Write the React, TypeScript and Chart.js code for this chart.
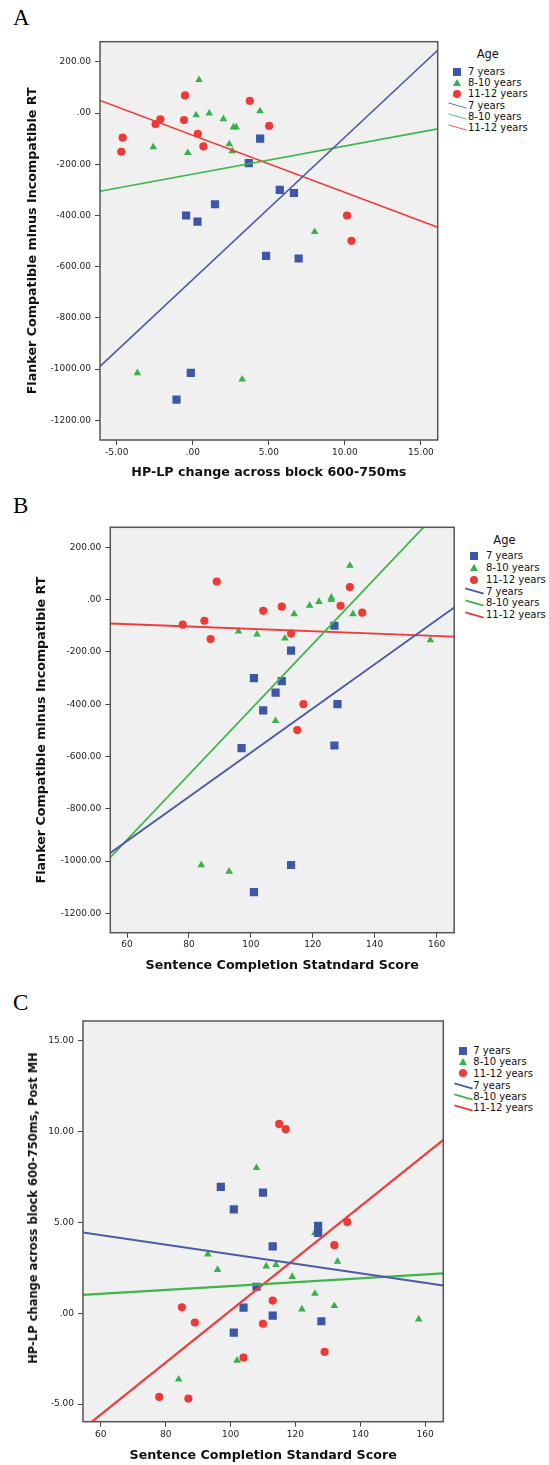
import React, { useEffect, useRef } from 'react';
import { Chart, registerables } from 'chart.js';

Chart.register(...registerables);

// ---------------- DATA ----------------
const ageGroups = ['7 years', '8-10 years', '11-12 years'];

// 7 years
const sentence7 = [127, 113, 101, 110, 108, 128, 104, 97, 127, 113, 101];
const hplp7 = [4.43, 3.68, 5.72, 6.65, 1.46, -0.44, 0.31, 6.96, 4.82, -0.13, -1.07];
const flanker7 = [-100, -195, -300, -312, -356, -400, -424, -568, -558, -1015, -1119];

// 8-10 years
const sentence810 = [84, 93, 96, 102, 108, 111, 114, 119, 122, 126, 126, 132, 133, 158];
const hplp810 = [-3.64, 3.25, 2.4, -2.6, 8.01, 2.59, 2.67, 2.01, 0.22, 4.42, 1.08, 0.41, 2.85, -0.33];
const flanker810 = [-1015, -1040, -121, -133, -464, -148, -55, -23, -8, 8, -1, 130, -55, -155];

// 11-12 years
const sentence1112 = [89, 78, 85, 87, 104, 110, 113, 117, 115, 129, 132, 136];
const hplp1112 = [-0.51, -4.61, 0.33, -4.7, -2.45, -0.58, 0.7, 10.14, 10.43, -2.13, 3.75, 5.02];
const flanker1112 = [69, -96, -81, -151, -43, -27, -130, -400, -499, -24, 48, -50];

// ticks
const flankerTicks = [200, 0, -200, -400, -600, -800, -1000, -1200];
const flankerTickLabels = ['200.00', '.00', '-200.00', '-400.00', '-600.00', '-800.00', '-1000.00', '-1200.00'];
const hplpTicks = [-5, 0, 5, 10, 15];
const hplpTickLabels = ['-5.00', '.00', '5.00', '10.00', '15.00'];
const sentenceTicks = [60, 80, 100, 120, 140, 160];
const sentenceTickLabels = ['60', '80', '100', '120', '140', '160'];

// axis limits
const rangeA = { xMin: -6.1, xMax: 16.1, yMin: -1277, yMax: 279 };
const rangeB = { xMin: 54.6, xMax: 165.7, yMin: -1274, yMax: 276.5 };
const rangeC = { xMin: 54.5, xMax: 165.6, yMin: -5.975, yMax: 16.1 };

// ---------------- STYLE ----------------
const pointColors = ['#3d57a8', '#35b24a', '#ee3a37'];
const lineColors = ['#4a5aa6', '#3fb54c', '#ee3b3b'];
const pointStyles = ['rect', 'triangle', 'circle'];
const pointRadii = [5.8, 4.4, 4.1];
const FONT = '"DejaVu Sans", sans-serif';

function fitLine(xs: number[], ys: number[], x0: number, x1: number) {
  const n = xs.length;
  const mx = xs.reduce((a, b) => a + b, 0) / n;
  const my = ys.reduce((a, b) => a + b, 0) / n;
  let sxy = 0;
  let sxx = 0;
  for (let i = 0; i < n; i++) {
    sxy += (xs[i] - mx) * (ys[i] - my);
    sxx += (xs[i] - mx) * (xs[i] - mx);
  }
  const b = sxy / sxx;
  const a = my - b * mx;
  return [
    { x: x0, y: a + b * x0 },
    { x: x1, y: a + b * x1 },
  ];
}

const labelOf = (vals: number[], labels: string[]) => (v: any) => {
  const i = vals.indexOf(Number(v));
  return i >= 0 ? labels[i] : '';
};

const framePlugin = {
  id: 'plotFrame',
  beforeDraw(chart: any) {
    const { ctx, chartArea: a } = chart;
    ctx.save();
    ctx.fillStyle = '#f0f0f0';
    ctx.fillRect(a.left, a.top, a.right - a.left, a.bottom - a.top);
    ctx.restore();
  },
  afterDraw(chart: any) {
    const { ctx, chartArea: a } = chart;
    ctx.save();
    ctx.strokeStyle = '#555555';
    ctx.lineWidth = 1.5;
    ctx.strokeRect(a.left, a.top, a.right - a.left, a.bottom - a.top);
    ctx.restore();
  },
};

type PanelSpec = {
  xs: number[][];
  ys: number[][];
  range: { xMin: number; xMax: number; yMin: number; yMax: number };
  xTicks: number[];
  xLabels: string[];
  yTicks: number[];
  yLabels: string[];
  xTitle: string;
  yTitle: string | null;
  padTop: number;
  padRight: number;
  yAxisWidth: number;
  xAxisHeight: number;
  yTitlePad: number;
  xTitlePad: number;
  xTickPad: number;
  lineWidth: number;
};

function buildConfig(p: PanelSpec): any {
  const datasets: any[] = [];
  for (let g = 0; g < 3; g++) {
    datasets.push({
      type: 'line',
      label: ageGroups[g] + ' fit',
      data: fitLine(p.xs[g], p.ys[g], p.range.xMin, p.range.xMax),
      borderColor: lineColors[g],
      borderWidth: p.lineWidth,
      pointRadius: 0,
      fill: false,
      tension: 0,
      clip: 0,
      order: 0,
    });
  }
  for (let g = 0; g < 3; g++) {
    datasets.push({
      type: 'scatter',
      label: ageGroups[g],
      data: p.xs[g].map((x, i) => ({ x, y: p.ys[g][i] })),
      backgroundColor: pointColors[g],
      borderColor: pointColors[g],
      borderWidth: 0,
      pointStyle: pointStyles[g],
      pointRadius: pointRadii[g],
      showLine: false,
      order: 1,
    });
  }
  const tickFont = { family: FONT, size: 9 };
  const titleFont = { family: FONT, size: 12.7, weight: 'bold' as const };
  return {
    type: 'scatter',
    data: { datasets },
    plugins: [framePlugin],
    options: {
      animation: false,
      responsive: false,
      events: [],
      layout: { padding: { top: p.padTop, right: p.padRight, bottom: 0, left: 0 } },
      plugins: { legend: { display: false }, tooltip: { enabled: false } },
      scales: {
        x: {
          type: 'linear',
          position: 'bottom',
          min: p.range.xMin,
          max: p.range.xMax,
          afterBuildTicks: (axis: any) => {
            axis.ticks = p.xTicks.map((v) => ({ value: v }));
          },
          afterFit: (axis: any) => {
            axis.height = p.xAxisHeight;
          },
          ticks: {
            callback: labelOf(p.xTicks, p.xLabels),
            font: tickFont,
            color: '#222',
            padding: p.xTickPad,
            maxRotation: 0,
            autoSkip: false,
          },
          grid: { drawOnChartArea: false, drawTicks: true, tickLength: 5, color: '#444', lineWidth: 1 },
          border: { display: false },
          title: {
            display: true,
            text: p.xTitle,
            font: titleFont,
            color: '#111',
            padding: { top: 0, bottom: p.xTitlePad },
          },
        },
        y: {
          type: 'linear',
          position: 'left',
          min: p.range.yMin,
          max: p.range.yMax,
          afterBuildTicks: (axis: any) => {
            axis.ticks = p.yTicks.map((v) => ({ value: v }));
          },
          afterFit: (axis: any) => {
            axis.width = p.yAxisWidth;
          },
          ticks: {
            callback: labelOf(p.yTicks, p.yLabels),
            font: tickFont,
            color: '#222',
            padding: 4,
            autoSkip: false,
          },
          grid: { drawOnChartArea: false, drawTicks: true, tickLength: 5, color: '#444', lineWidth: 1 },
          border: { display: false },
          title: {
            display: p.yTitle !== null,
            text: p.yTitle ?? '',
            font: titleFont,
            color: '#111',
            padding: { top: p.yTitlePad, bottom: 0 },
          },
        },
      },
    },
  };
}

function ChartPanel({ left, top, width, height, spec }: { left: number; top: number; width: number; height: number; spec: PanelSpec }) {
  const ref = useRef<HTMLCanvasElement>(null);
  useEffect(() => {
    const chart = new Chart(ref.current as HTMLCanvasElement, buildConfig(spec));
    return () => chart.destroy();
  }, []);
  return (
    <canvas
      ref={ref}
      width={width}
      height={height}
      style={{ position: 'absolute', left, top, width, height, display: 'block' }}
    />
  );
}

function Marker({ kind, color, cx, cy }: { kind: number; color: string; cx: number; cy: number }) {
  if (kind === 0)
    return <div style={{ position: 'absolute', left: cx - 4, top: cy - 4, width: 8, height: 8, background: color }} />;
  if (kind === 1)
    return (
      <div
        style={{
          position: 'absolute',
          left: cx - 4,
          top: cy - 3.5,
          width: 0,
          height: 0,
          borderLeft: '4px solid transparent',
          borderRight: '4px solid transparent',
          borderBottom: `7px solid ${color}`,
        }}
      />
    );
  return <div style={{ position: 'absolute', left: cx - 4, top: cy - 4, width: 8, height: 8, borderRadius: '50%', background: color }} />;
}

function LegendBlock({
  markerX,
  textX,
  rows,
  title,
  lineW,
}: {
  markerX: number;
  textX: number;
  rows: number[];
  title: { x: number; y: number } | null;
  lineW: number;
}) {
  const items: any[] = [];
  if (title)
    items.push(
      <div key="t" style={{ position: 'absolute', left: title.x, top: title.y - 6, fontSize: 11.5, lineHeight: '12px', fontFamily: FONT, color: '#111', whiteSpace: 'nowrap' }}>
        Age
      </div>
    );
  for (let g = 0; g < 3; g++) {
    items.push(<Marker key={'m' + g} kind={g} color={pointColors[g]} cx={markerX} cy={rows[g]} />);
  }
  for (let g = 0; g < 3; g++) {
    const cy = rows[g + 3];
    const len = 19;
    items.push(
      <div
        key={'l' + g}
        style={{
          position: 'absolute',
          left: markerX - len / 2,
          top: cy - lineW / 2,
          width: len,
          height: lineW,
          background: lineColors[g],
          transform: 'rotate(16deg)',
        }}
      />
    );
  }
  for (let r = 0; r < 6; r++) {
    items.push(
      <div
        key={'x' + r}
        style={{ position: 'absolute', left: textX, top: rows[r] - 4.8, fontSize: 10, lineHeight: '10px', fontFamily: FONT, color: '#111', whiteSpace: 'nowrap' }}
      >
        {ageGroups[r % 3]}
      </div>
    );
  }
  return <>{items}</>;
}

const specA: PanelSpec = {
  xs: [hplp7, hplp810, hplp1112],
  ys: [flanker7, flanker810, flanker1112],
  range: rangeA,
  xTicks: hplpTicks,
  xLabels: hplpTickLabels,
  yTicks: flankerTicks,
  yLabels: flankerTickLabels,
  xTitle: 'HP-LP change across block 600-750ms',
  yTitle: 'Flanker Compatible minus Incompatible RT',
  padTop: 41.7,
  padRight: 7.3,
  yAxisWidth: 100,
  xAxisHeight: 50,
  yTitlePad: 25.1,
  xTitlePad: 9.7,
  xTickPad: 2,
  lineWidth: 1.6,
};

const specB: PanelSpec = {
  xs: [sentence7, sentence810, sentence1112],
  ys: [flanker7, flanker810, flanker1112],
  range: rangeB,
  xTicks: sentenceTicks,
  xLabels: sentenceTickLabels,
  yTicks: flankerTicks,
  yLabels: flankerTickLabels,
  xTitle: 'Sentence Completion Statndard Score',
  yTitle: 'Flanker Compatible minus Incompatible RT',
  padTop: 37.3,
  padRight: 5,
  yAxisWidth: 110.3,
  xAxisHeight: 57.3,
  yTitlePad: 34.1,
  xTitlePad: 16.4,
  xTickPad: 2,
  lineWidth: 1.8,
};

const specC: PanelSpec = {
  xs: [sentence7, sentence810, sentence1112],
  ys: [hplp7, hplp810, hplp1112],
  range: rangeC,
  xTicks: sentenceTicks,
  xLabels: sentenceTickLabels,
  yTicks: hplpTicks,
  yLabels: hplpTickLabels,
  xTitle: 'Sentence Completion Standard Score',
  yTitle: null,
  padTop: 31,
  padRight: 6.7,
  yAxisWidth: 83,
  xAxisHeight: 43.3,
  yTitlePad: 0,
  xTitlePad: 1.4,
  xTickPad: 3,
  lineWidth: 2.2,
};

const letterStyle: React.CSSProperties = {
  position: 'absolute',
  left: 13,
  fontFamily: '"Liberation Serif", "Times New Roman", serif',
  fontSize: 23,
  lineHeight: '23px',
  color: '#000',
};

export default function App() {
  return (
    <div style={{ position: 'absolute', left: 0, top: 0, width: 549, height: 1465, background: '#fff', overflow: 'hidden' }}>
      <div style={{ ...letterStyle, top: 6 }}>A</div>
      <div style={{ ...letterStyle, top: 494 }}>B</div>
      <div style={{ ...letterStyle, top: 991 }}>C</div>

      <ChartPanel left={0} top={0} width={445} height={490} spec={specA} />
      <ChartPanel left={0} top={490} width={460} height={500} spec={specB} />
      <ChartPanel left={0} top={990} width={450} height={475} spec={specC} />

      <div
        style={{
          position: 'absolute',
          left: 33.3,
          top: 1208.3,
          transform: 'translate(-50%, -50%) rotate(-90deg)',
          fontFamily: FONT,
          fontWeight: 'bold',
          fontSize: 11.5,
          lineHeight: '14px',
          color: '#111',
          whiteSpace: 'nowrap',
        }}
      >
        HP-LP change across block 600-750ms, Post MH
      </div>

      <LegendBlock markerX={457} textX={468} rows={[71.7, 82.7, 94, 105.3, 116.3, 127.3]} title={{ x: 476.7, y: 54 }} lineW={1} />
      <LegendBlock markerX={474} textX={486} rows={[556, 567.8, 579.5, 591.3, 603, 614.8]} title={{ x: 493.3, y: 540 }} lineW={1.7} />
      <LegendBlock markerX={463} textX={473.3} rows={[1050.7, 1061.7, 1073.3, 1086, 1096.7, 1107.7]} title={null} lineW={2} />
    </div>
  );
}
